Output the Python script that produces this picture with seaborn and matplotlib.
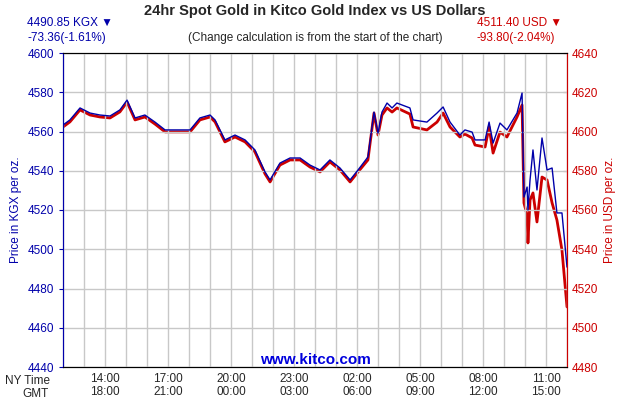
import numpy as np
import pandas as pd
import matplotlib
matplotlib.use('Agg')
import matplotlib.pyplot as plt
import seaborn as sns

# hours since 12:00 NY time
hours = [0, 0.33, 0.81, 1.29, 1.76, 2.24, 2.71, 3.05, 3.43, 3.90, 4.38, 4.86, 6.05, 6.52,
         7.0, 7.24, 7.71, 8.19, 8.67, 9.14, 9.62, 9.86, 10.33, 10.81, 11.29, 11.76, 12.24,
         12.71, 13.19, 13.67, 14.05, 14.52, 14.81, 15.0, 15.19, 15.43, 15.67, 15.90, 16.52,
         16.67, 17.33, 17.81, 18.10, 18.43, 18.90, 19.14, 19.48, 19.62, 20.10, 20.29, 20.48,
         20.81, 21.14, 21.62, 21.86, 21.95, 22.10, 22.14, 22.24, 22.38, 22.57, 22.81, 23.05,
         23.29, 23.52, 23.76, 24.0]
kgx = [4563.3, 4565.9, 4572.0, 4569.4, 4568.4, 4567.9, 4571.0, 4576.0, 4566.9, 4568.4,
       4564.8, 4560.8, 4560.8, 4566.9, 4568.4, 4565.9, 4555.7, 4558.2, 4555.7, 4550.6,
       4539.4, 4535.3, 4543.9, 4546.5, 4546.5, 4542.9, 4540.4, 4545.5, 4541.4, 4535.3,
       4540.4, 4547.0, 4569.9, 4559.2, 4569.9, 4574.5, 4572.0, 4574.5, 4572.0, 4565.9,
       4564.8, 4569.4, 4572.5, 4564.8, 4558.2, 4560.8, 4559.7, 4555.7, 4555.7, 4564.8,
       4554.1, 4564.3, 4560.8, 4569.4, 4579.6, 4526.6, 4531.7, 4520.0, 4535.3, 4550.6,
       4530.2, 4556.7, 4540.4, 4541.4, 4518.5, 4518.5, 4490.9]
usd = [4602.3, 4604.9, 4611.0, 4608.4, 4607.4, 4606.9, 4610.0, 4615.0, 4605.9, 4607.4,
       4603.8, 4599.8, 4599.8, 4605.9, 4607.4, 4604.9, 4594.7, 4597.2, 4594.7, 4589.6,
       4578.4, 4574.3, 4582.9, 4585.5, 4585.5, 4581.9, 4579.4, 4584.5, 4580.4, 4574.3,
       4579.4, 4585.5, 4609.4, 4598.2, 4608.4, 4612.0, 4609.9, 4612.0, 4608.9, 4602.3,
       4600.8, 4604.8, 4609.4, 4602.3, 4597.2, 4598.7, 4596.7, 4593.1, 4592.1, 4602.3,
       4589.0, 4599.7, 4597.2, 4607.4, 4613.5, 4563.6, 4557.4, 4543.2, 4565.1, 4568.7,
       4553.9, 4576.8, 4575.3, 4563.6, 4554.9, 4539.6, 4510.6]

tick_hours = [2, 5, 8, 11, 14, 17, 20, 23]
ny_labels = ['14:00', '17:00', '20:00', '23:00', '02:00', '05:00', '08:00', '11:00']
gmt_labels = ['18:00', '21:00', '00:00', '03:00', '06:00', '09:00', '12:00', '15:00']

df = pd.DataFrame({'h': hours, 'kgx': kgx, 'usd': usd})

sns.set_style('white')
plt.rcParams['font.family'] = ['Liberation Sans', 'DejaVu Sans']
blue = '#0000aa'
red = '#cc0000'

fig = plt.figure(figsize=(6.3, 4), dpi=100)
ax = fig.add_axes([0.1, 0.0825, 0.8, 0.785])
ax2 = ax.twinx()

sns.lineplot(data=df, x='h', y='kgx', ax=ax, color=blue, lw=1.0, zorder=3)
sns.lineplot(data=df, x='h', y='usd', ax=ax2, color=red, lw=2.0, zorder=2)
ax.set_zorder(ax2.get_zorder() + 1)
ax.patch.set_visible(False)

ax.set_xlim(0, 24)
ax.set_ylim(4440, 4600)
ax2.set_ylim(4480, 4640)
ax.set_yticks(range(4440, 4601, 20))
ax2.set_yticks(range(4480, 4641, 20))
ax.set_xticks(range(0, 25), minor=True)
ax.set_xticks(tick_hours)
ax.set_xticklabels([a + '\n' + b for a, b in zip(ny_labels, gmt_labels)], fontsize=8.5)
ax.grid(True, which='both', axis='x', color='#c8c8c8', lw=1)
ax.grid(True, which='major', axis='y', color='#c8c8c8', lw=1)
ax.tick_params(axis='x', which='both', length=0, pad=4)
ax.tick_params(axis='y', colors=blue, labelsize=8.5, length=3)
ax2.tick_params(axis='y', colors=red, labelsize=8.5, length=3, direction='in')
ax.set_xlabel('')
ax.set_ylabel('Price in KGX per oz.', color=blue, fontsize=8.5)
ax2.set_ylabel('Price in USD per oz.', color=red, fontsize=8.5)
for a in (ax, ax2):
    a.spines['top'].set_color('black')
    a.spines['bottom'].set_color('black')
    a.spines['left'].set_color(blue)
    a.spines['right'].set_color(red)

fig.text(0.5, 0.972, '24hr Spot Gold in Kitco Gold Index vs US Dollars',
         ha='center', va='center', fontsize=10.5, fontweight='bold')
fig.text(0.5, 0.905, '(Change calculation is from the start of the chart)',
         ha='center', va='center', fontsize=8.5)
fig.text(0.043, 0.942, '4490.85 KGX \u25bc', color=blue, fontsize=8.5, va='center')
fig.text(0.043, 0.905, '-73.36(-1.61%)', color=blue, fontsize=8.5, va='center')
fig.text(0.757, 0.942, '4511.40 USD \u25bc', color=red, fontsize=8.5, va='center')
fig.text(0.757, 0.905, '-93.80(-2.04%)', color=red, fontsize=8.5, va='center')
fig.text(0.5, 0.1, 'www.kitco.com', color='#0000dd', fontsize=11, fontweight='bold',
         ha='center', va='center')
fig.text(0.008, 0.047, 'NY Time', fontsize=8.5, va='center')
fig.text(0.035, 0.016, 'GMT', fontsize=8.5, va='center')

fig.savefig('out.png', dpi=100)
